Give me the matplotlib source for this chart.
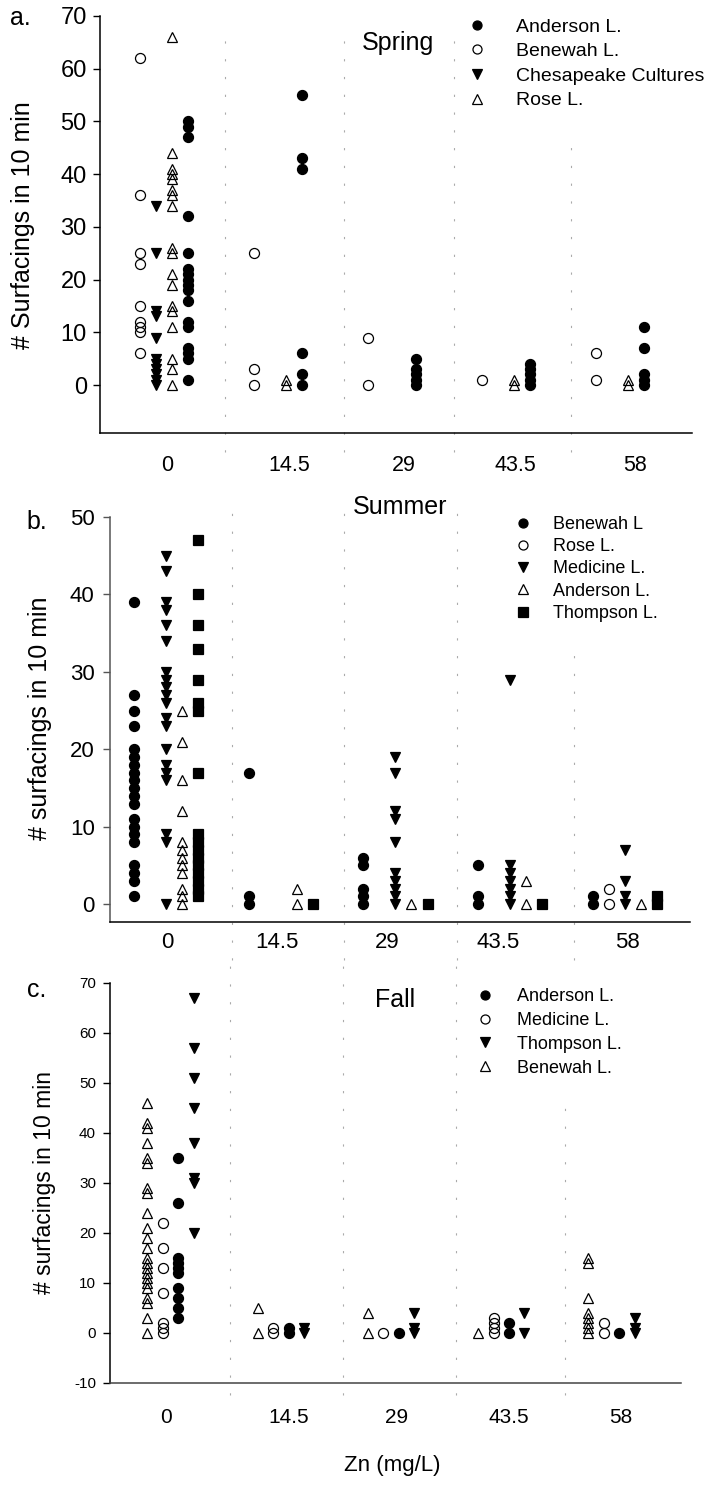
import matplotlib
matplotlib.use('Agg')
import matplotlib.pyplot as plt
from matplotlib.lines import Line2D

plt.rcParams['font.family'] = ['Liberation Sans', 'DejaVu Sans']
plt.rcParams['axes.unicode_minus'] = False

ZN_LABELS = ['0', '14.5', '29', '43.5', '58']

# surfacings in 10 min, one list per Zn level (0, 14.5, 29, 43.5, 58 mg/L)
spring_anderson = [[50, 49, 47, 32, 25, 22, 21, 20, 19, 18, 16, 12, 11, 7, 6, 5, 1],
                   [55, 43, 41, 6, 2, 0], [5, 3, 2, 1, 0], [4, 3, 2, 1, 0], [11, 7, 2, 1, 0]]
spring_benewah = [[62, 36, 25, 23, 15, 12, 11, 10, 6], [25, 3, 0], [9, 0], [1], [6, 1]]
spring_chesapeake = [[34, 25, 14, 13, 9, 5, 4, 3, 2, 1, 0], [], [], [], []]
spring_rose = [[66, 44, 41, 40, 39, 37, 36, 34, 26, 25, 21, 19, 15, 14, 11, 5, 3, 0],
               [1, 0], [], [1, 0], [1, 0]]

summer_benewah = [[39, 27, 25, 23, 20, 19, 18, 17, 16, 15, 14, 13, 11, 10, 9, 8, 5, 4, 3, 1],
                  [17, 1, 0], [6, 5, 2, 1, 0], [5, 1, 0], [1, 0]]
summer_rose = [[], [], [], [], [2, 0]]
summer_medicine = [[45, 43, 39, 38, 36, 34, 30, 29, 28, 27, 26, 24, 23, 20, 18, 17, 16, 9, 8, 0],
                   [], [19, 17, 12, 11, 8, 4, 3, 2, 1, 0], [29, 5, 4, 3, 2, 1, 0], [7, 3, 1, 0]]
summer_anderson = [[25, 21, 16, 12, 8, 7, 6, 5, 4, 2, 1, 0], [2, 0], [0], [3, 0], [0]]
summer_thompson = [[47, 40, 36, 33, 29, 26, 25, 17, 9, 8, 7, 6, 5, 4, 3, 2, 1],
                   [0], [0], [0], [1, 0]]

fall_anderson = [[35, 26, 15, 14, 13, 12, 9, 7, 5, 3], [1, 0], [0], [2, 0], [0]]
fall_medicine = [[22, 17, 13, 8, 2, 1, 0], [1, 0], [0], [3, 2, 1, 0], [2, 0]]
fall_thompson = [[67, 57, 51, 45, 38, 31, 30, 20], [1, 0], [4, 1, 0], [4, 0], [3, 1, 0]]
fall_benewah = [[46, 42, 41, 38, 35, 34, 29, 28, 24, 21, 19, 17, 15, 14, 13, 12, 11, 10, 9, 7, 6, 3, 0],
                [5, 0], [4, 0], [0], [15, 14, 7, 4, 3, 2, 1, 0]]

# marker styles
FILLED_CIRCLE = dict(marker='o', mfc='black', mec='black')
OPEN_CIRCLE = dict(marker='o', mfc='none', mec='black')
FILLED_DOWN = dict(marker='v', mfc='black', mec='black')
OPEN_UP = dict(marker='^', mfc='none', mec='black')
FILLED_SQUARE = dict(marker='s', mfc='black', mec='black')

SLOT = 0.14
W, H = 707, 1487

fig = plt.figure(figsize=(W / 100, H / 100), dpi=100)


def fx(x):
    return x / W


def fy(y):
    return 1 - y / H


def px_axes(left, top, right, bottom):
    return fig.add_axes([fx(left), fy(bottom), (right - left) / W, (bottom - top) / H])


def draw_panel(box, series, legend_order, xlim, ylim, yticks, xticks, seps, sep_tops,
               sep_bottom, ytick_size, xtick_size, xtick_pad, ytick_pad, leg):
    left, top, right, bottom = box
    ax = px_axes(*box)
    handles = {}
    for name, counts, style, slot in series:
        xs, ys = [], []
        for i, vals in enumerate(counts):
            xs += [i + slot * SLOT] * len(vals)
            ys += vals
        ax.plot(xs, ys, ls='none', ms=7.2, mew=0.9, zorder=3, clip_on=False, **style)
        handles[name] = Line2D([], [], ls='none', ms=6.5, mew=0.9, **style)

    # dotted separators between the Zn levels
    for s, t in zip(seps, sep_tops):
        ax.axvline(s, ymin=(bottom - sep_bottom) / (bottom - top),
                   ymax=(bottom - t) / (bottom - top),
                   color='#aaaaaa', lw=0.8, ls=(0, (2, 14)), clip_on=False, zorder=1)

    ax.set_xlim(*xlim)
    ax.set_ylim(*ylim)
    ax.set_yticks(yticks)
    ax.set_xticks(xticks)
    ax.set_xticklabels(ZN_LABELS)
    ax.tick_params(axis='x', length=0, labelsize=xtick_size, pad=xtick_pad)
    ax.tick_params(axis='y', length=5, width=1, direction='out',
                   labelsize=ytick_size, pad=ytick_pad)
    for sp in ('top', 'right'):
        ax.spines[sp].set_visible(False)
    for sp in ('left', 'bottom'):
        ax.spines[sp].set_linewidth(1.1)

    lx, ly, fs, pad, spacing = leg
    ax.legend([handles[n] for n in legend_order], legend_order,
              loc='upper left', bbox_to_anchor=(fx(lx), fy(ly)),
              bbox_transform=fig.transFigure, frameon=False, fontsize=fs,
              handlelength=1.0, handletextpad=pad, labelspacing=spacing,
              borderpad=0, borderaxespad=0)
    return ax


# a. spring
ax_a = draw_panel((100, 16, 692, 433),
                  [('Benewah L.', spring_benewah, OPEN_CIRCLE, -1.5),
                   ('Chesapeake Cultures', spring_chesapeake, FILLED_DOWN, -0.5),
                   ('Rose L.', spring_rose, OPEN_UP, 0.5),
                   ('Anderson L.', spring_anderson, FILLED_CIRCLE, 1.5)],
                  ['Anderson L.', 'Benewah L.', 'Chesapeake Cultures', 'Rose L.'],
                  (-0.56, 4.63), (-9.1, 70), range(0, 71, 10),
                  [0.03, 1.10, 2.10, 3.08, 4.13],
                  [0.54, 1.58, 2.54, 3.57], [30, 30, 30, 132], 452,
                  17, 15.5, 16, 4.5,
                  (467, 18, 14, 1.5, 0.36))

# b. summer
ax_b = draw_panel((110, 517, 690, 922),
                  [('Benewah L', summer_benewah, FILLED_CIRCLE, -2),
                   ('Rose L.', summer_rose, OPEN_CIRCLE, -1),
                   ('Medicine L.', summer_medicine, FILLED_DOWN, 0),
                   ('Anderson L.', summer_anderson, OPEN_UP, 1),
                   ('Thompson L.', summer_thompson, FILLED_SQUARE, 2)],
                  ['Benewah L', 'Rose L.', 'Medicine L.', 'Anderson L.', 'Thompson L.'],
                  (-0.49, 4.57), (-2.3, 50), range(0, 51, 10),
                  [0.01, 0.97, 1.93, 2.90, 4.02],
                  [0.575, 1.55, 2.54, 3.56], [498, 498, 498, 653], 960,
                  16, 16, 7, 6,
                  (514, 516, 13, 1.17, 0.29))
ax_b.spines['left'].set_color('#555555')
ax_b.tick_params(axis='y', color='#555555')

# c. fall
ax_c = draw_panel((110, 983, 681, 1383),
                  [('Benewah L.', fall_benewah, OPEN_UP, -1.5),
                   ('Medicine L.', fall_medicine, OPEN_CIRCLE, -0.5),
                   ('Anderson L.', fall_anderson, FILLED_CIRCLE, 0.5),
                   ('Thompson L.', fall_thompson, FILLED_DOWN, 1.5)],
                  ['Anderson L.', 'Medicine L.', 'Thompson L.', 'Benewah L.'],
                  (-0.55, 4.63), (-10, 70), range(-10, 71, 10),
                  [-0.04, 1.07, 2.05, 3.07, 4.08],
                  [0.54, 1.56, 2.59, 3.58], [955, 955, 955, 1095], 1395,
                  11, 15, 18, 5,
                  (476, 988, 13, 1.28, 0.38))
ax_c.spines['bottom'].set_color('#444444')

# seasons
fig.text(fx(398), fy(43), 'Spring', fontsize=18, ha='center', va='center')
fig.text(fx(400), fy(507), 'Summer', fontsize=18, ha='center', va='center')
fig.text(fx(395), fy(1000), 'Fall', fontsize=18, ha='center', va='center')

# panel letters
fig.text(fx(20), fy(18), 'a.', fontsize=18, ha='center', va='center')
fig.text(fx(37), fy(522), 'b.', fontsize=18, ha='center', va='center')
fig.text(fx(37), fy(990), 'c.', fontsize=18, ha='center', va='center')

# y axis titles
fig.text(fx(23), fy(225), '# Surfacings in 10 min', fontsize=18, rotation=90,
         ha='center', va='center')
fig.text(fx(40), fy(718), '# surfacings in 10 min', fontsize=18, rotation=90,
         ha='center', va='center')
fig.text(fx(45), fy(1182), '# surfacings in 10 min', fontsize=16.5, rotation=90,
         ha='center', va='center')

fig.text(fx(392), fy(1466), 'Zn (mg/L)', fontsize=16, ha='center', va='center')

fig.savefig('out.png', dpi=100)
